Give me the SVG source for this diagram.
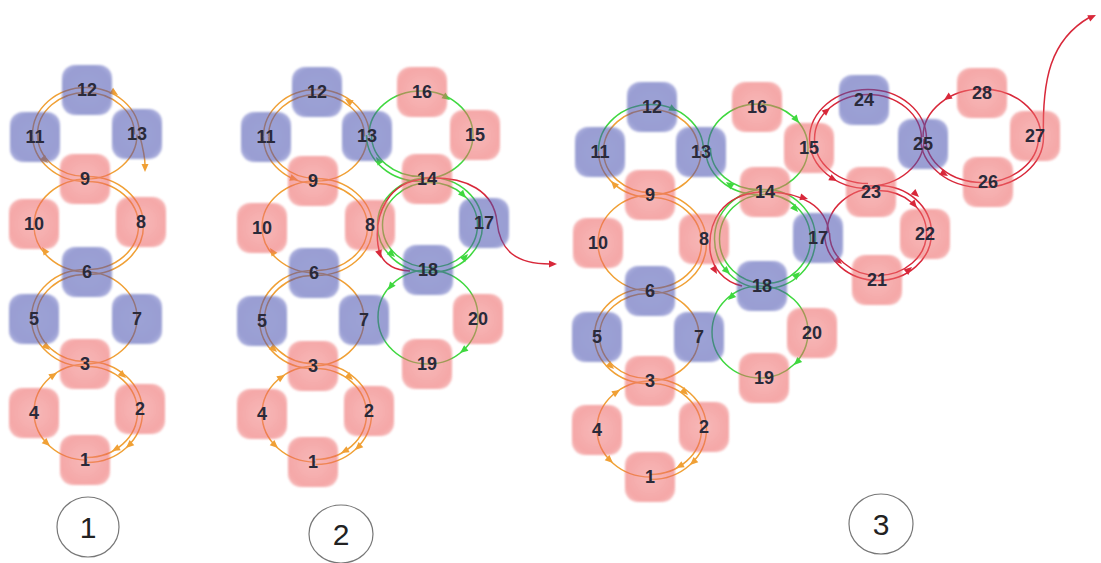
<svg xmlns="http://www.w3.org/2000/svg" width="1101" height="563" viewBox="0 0 1101 563">
<style>
.n rect{opacity:0.55;filter:url(#soft)}
.b rect{fill:url(#gb)}
.p rect{fill:url(#gp)}
.n text{font-family:"Liberation Sans",Arial,sans-serif;font-size:18px;font-weight:bold;fill:#2a2a3a;text-anchor:middle}
.c path{fill:none;stroke-width:1.5}
.o{stroke:#f0a035}
.g{stroke:#3fd83f}
.r{stroke:#d8283a}
.ao{fill:#f0a035}
.ag{fill:#3fd83f}
.ar{fill:#d8283a}
.lab ellipse{fill:#fff;stroke:#777;stroke-width:1.2}
.lab text{font-family:"Liberation Sans",Arial,sans-serif;font-size:30px;fill:#222;text-anchor:middle}
</style>
<defs>
<radialGradient id="gb" cx="50%" cy="50%" r="65%"><stop offset="0" stop-color="#4f56b4"/><stop offset="0.75" stop-color="#474faf"/><stop offset="1" stop-color="#737aca"/></radialGradient>
<radialGradient id="gp" cx="50%" cy="50%" r="65%"><stop offset="0" stop-color="#f28080"/><stop offset="0.75" stop-color="#ed6161"/><stop offset="1" stop-color="#f08585"/></radialGradient>
<filter id="soft" x="-10%" y="-10%" width="120%" height="120%"><feGaussianBlur stdDeviation="1.2"/></filter>
<path id="ah" d="M0,0 L-8,-3.5 L-8,3.5 Z"/>
</defs>
<rect width="1101" height="563" fill="#fff"/>

<g id="connectors" class="c">
<!-- panel 1 orange -->
<path class="o" d="M86,87.5 A53.5,47 0 0 0 32.5,134.5"/>
<path class="o" d="M86,92.5 A48.5,42 0 0 0 37.5,134.5"/>
<path class="o" d="M86,87.5 A53.5,47 0 0 1 139.5,134.5"/>
<path class="o" d="M86,92.5 A48.5,42 0 0 1 134.5,134.5"/>
<path class="o" d="M137,134.5 A51,44.5 0 0 1 86,179"/>
<path class="o" d="M32.5,134.5 A53.5,47 0 0 0 86,181.5"/>
<path class="o" d="M37.5,134.5 A48.5,42 0 0 0 86,176.5"/>
<path class="o" d="M139.5,134.5 C143,148 145,156 145,165"/>
<path class="o" d="M87.5,179 A53.5,46.5 0 0 0 34,225.5"/>
<path class="o" d="M87.5,176.5 A56,49 0 0 1 143.5,225.5"/>
<path class="o" d="M87.5,181.5 A51,44 0 0 1 138.5,225.5"/>
<path class="o" d="M143.5,225.5 A56,49 0 0 1 87.5,274.5"/>
<path class="o" d="M138.5,225.5 A51,44 0 0 1 87.5,269.5"/>
<path class="o" d="M34,225.5 A53.5,46.5 0 0 0 87.5,272"/>
<path class="o" d="M85.5,269.5 A54,48.5 0 0 0 31.5,318"/>
<path class="o" d="M85.5,274.5 A49,43.5 0 0 0 36.5,318"/>
<path class="o" d="M31.5,318 A54,48.5 0 0 0 85.5,366.5"/>
<path class="o" d="M36.5,318 A49,43.5 0 0 0 85.5,361.5"/>
<path class="o" d="M85.5,272 A51.5,46 0 0 1 137,318"/>
<path class="o" d="M137,318 A51.5,46 0 0 1 85.5,364"/>
<path class="o" d="M87,361.5 A55.5,50.5 0 0 1 142.5,412"/>
<path class="o" d="M87,366.5 A50.5,45.5 0 0 1 137.5,412"/>
<path class="o" d="M142.5,412 A55.5,50.5 0 0 1 87,462.5"/>
<path class="o" d="M137.5,412 A50.5,45.5 0 0 1 87,457.5"/>
<path class="o" d="M87,364 A53,48 0 0 0 34,412"/>
<path class="o" d="M34,412 A53,48 0 0 0 87,460"/>
<!-- panel 2 orange -->
<path class="o" d="M316.5,89.5 A53,47 0 0 0 263.5,136.5"/>
<path class="o" d="M316.5,94.5 A48,42 0 0 0 268.5,136.5"/>
<path class="o" d="M316.5,89.5 A53,47 0 0 1 369.5,136.5"/>
<path class="o" d="M316.5,94.5 A48,42 0 0 1 364.5,136.5"/>
<path class="o" d="M367,136.5 A50.5,44.5 0 0 1 316.5,181"/>
<path class="o" d="M263.5,136.5 A53,47 0 0 0 316.5,183.5"/>
<path class="o" d="M268.5,136.5 A48,42 0 0 0 316.5,178.5"/>
<path class="o" d="M316,181 A54,46 0 0 0 262,227"/>
<path class="o" d="M316,178.5 A56.5,48.5 0 0 1 372.5,227"/>
<path class="o" d="M316,183.5 A51.5,43.5 0 0 1 367.5,227"/>
<path class="o" d="M372.5,227 A56.5,48.5 0 0 1 316,275.5"/>
<path class="o" d="M367.5,227 A51.5,43.5 0 0 1 316,270.5"/>
<path class="o" d="M262,227 A54,46 0 0 0 316,273"/>
<path class="o" d="M313,270.5 A53.5,49 0 0 0 259.5,319.5"/>
<path class="o" d="M313,275.5 A48.5,44 0 0 0 264.5,319.5"/>
<path class="o" d="M259.5,319.5 A53.5,49 0 0 0 313,368.5"/>
<path class="o" d="M264.5,319.5 A48.5,44 0 0 0 313,363.5"/>
<path class="o" d="M313,273 A51,46.5 0 0 1 364,319.5"/>
<path class="o" d="M364,319.5 A51,46.5 0 0 1 313,366"/>
<path class="o" d="M315.5,363.5 A56,50.5 0 0 1 371.5,414"/>
<path class="o" d="M315.5,368.5 A51,45.5 0 0 1 366.5,414"/>
<path class="o" d="M371.5,414 A56,50.5 0 0 1 315.5,464.5"/>
<path class="o" d="M366.5,414 A51,45.5 0 0 1 315.5,459.5"/>
<path class="o" d="M315.5,366 A53.5,48 0 0 0 262,414"/>
<path class="o" d="M262,414 A53.5,48 0 0 0 315.5,462"/>
<!-- panel 2 green -->
<path class="g" d="M421,91 A52,44 0 0 0 369,135"/>
<path class="g" d="M421,91 A52,44 0 0 1 473,135"/>
<path class="g" d="M473,135 A52,44 0 0 1 421,179"/>
<path class="g" d="M366.5,135 A54.5,46.5 0 0 0 421,181.5"/>
<path class="g" d="M371.5,135 A49.5,41.5 0 0 0 421,176.5"/>
<path class="g" d="M430,177.5 A52.5,47.5 0 0 0 377.5,225"/>
<path class="g" d="M430,182.5 A47.5,42.5 0 0 0 382.5,225"/>
<path class="g" d="M430,177.5 A52.5,47.5 0 0 1 482.5,225"/>
<path class="g" d="M430,182.5 A47.5,42.5 0 0 1 477.5,225"/>
<path class="g" d="M482.5,225 A52.5,47.5 0 0 1 430,272.5"/>
<path class="g" d="M477.5,225 A47.5,42.5 0 0 1 430,267.5"/>
<path class="g" d="M377.5,225 A52.5,47.5 0 0 0 430,272.5"/>
<path class="g" d="M382.5,225 A47.5,42.5 0 0 0 430,267.5"/>
<path class="g" d="M428,270 A50,47 0 0 0 378,317"/>
<path class="g" d="M428,270 A50,47 0 0 1 478,317"/>
<path class="g" d="M478,317 A50,47 0 0 1 428,364"/>
<path class="g" d="M378,317 A50,47 0 0 0 428,364"/>
<!-- panel 2 red -->
<path class="r" d="M425,179 C388,181 374,215 378,245 C380,262 392,270 410,271"/>
<path class="r" d="M425,178 C468,176 494,192 497,222 C500,250 515,264 550,264"/>
<!-- panel 3 orange -->
<path class="o" d="M651,109.5 A47.5,41.5 0 0 0 603.5,151"/>
<path class="o" d="M651,109.5 A47.5,41.5 0 0 1 698.5,151"/>
<path class="o" d="M701,151 A50,44 0 0 1 651,195"/>
<path class="o" d="M598.5,151 A52.5,46.5 0 0 0 651,197.5"/>
<path class="o" d="M603.5,151 A47.5,41.5 0 0 0 651,192.5"/>
<path class="o" d="M651,195 A53,48 0 0 0 598,243"/>
<path class="o" d="M651,192.5 A55.5,50.5 0 0 1 706.5,243"/>
<path class="o" d="M651,197.5 A50.5,45.5 0 0 1 701.5,243"/>
<path class="o" d="M706.5,243 A55.5,50.5 0 0 1 651,293.5"/>
<path class="o" d="M701.5,243 A50.5,45.5 0 0 1 651,288.5"/>
<path class="o" d="M598,243 A53,48 0 0 0 651,291"/>
<path class="o" d="M648,288.5 A53.5,47.5 0 0 0 594.5,336"/>
<path class="o" d="M648,293.5 A48.5,42.5 0 0 0 599.5,336"/>
<path class="o" d="M594.5,336 A53.5,47.5 0 0 0 648,383.5"/>
<path class="o" d="M599.5,336 A48.5,42.5 0 0 0 648,378.5"/>
<path class="o" d="M648,291 A51,45 0 0 1 699,336"/>
<path class="o" d="M699,336 A51,45 0 0 1 648,381"/>
<path class="o" d="M650.5,378.5 A56,50.5 0 0 1 706.5,429"/>
<path class="o" d="M650.5,383.5 A51,45.5 0 0 1 701.5,429"/>
<path class="o" d="M706.5,429 A56,50.5 0 0 1 650.5,479.5"/>
<path class="o" d="M701.5,429 A51,45.5 0 0 1 650.5,474.5"/>
<path class="o" d="M650.5,381 A53.5,48 0 0 0 597,429"/>
<path class="o" d="M597,429 A53.5,48 0 0 0 650.5,477"/>
<!-- panel 3 green -->
<path class="g" d="M651,104.5 A52.5,46.5 0 0 0 598.5,151"/>
<path class="g" d="M651,104.5 A52.5,46.5 0 0 1 703.5,151"/>
<path class="g" d="M758,104 A50,44 0 0 0 708,148"/>
<path class="g" d="M758,104 A50,44 0 0 1 808,148"/>
<path class="g" d="M808,148 A50,44 0 0 1 758,192"/>
<path class="g" d="M705.5,148 A52.5,46.5 0 0 0 758,194.5"/>
<path class="g" d="M710.5,148 A47.5,41.5 0 0 0 758,189.5"/>
<path class="g" d="M765,189.5 A50.5,49.5 0 0 0 714.5,239"/>
<path class="g" d="M765,194.5 A45.5,44.5 0 0 0 719.5,239"/>
<path class="g" d="M765,189.5 A50.5,49.5 0 0 1 815.5,239"/>
<path class="g" d="M765,194.5 A45.5,44.5 0 0 1 810.5,239"/>
<path class="g" d="M815.5,239 A50.5,49.5 0 0 1 765,288.5"/>
<path class="g" d="M810.5,239 A45.5,44.5 0 0 1 765,283.5"/>
<path class="g" d="M714.5,239 A50.5,49.5 0 0 0 765,288.5"/>
<path class="g" d="M719.5,239 A45.5,44.5 0 0 0 765,283.5"/>
<path class="g" d="M760,286 A48,46 0 0 0 712,332"/>
<path class="g" d="M760,286 A48,46 0 0 1 808,332"/>
<path class="g" d="M808,332 A48,46 0 0 1 760,378"/>
<path class="g" d="M712,332 A48,46 0 0 0 760,378"/>
<!-- panel 3 red -->
<path class="r" d="M760,192 C722,195 708,222 710,250 C712,268 724,282 742,286"/>
<path class="r" d="M770,192 C800,193 826,205 829,233"/>
<path class="r" d="M878,188 A51,45 0 0 0 827,233"/>
<path class="r" d="M878,185.5 A53.5,47.5 0 0 1 931.5,233"/>
<path class="r" d="M878,190.5 A48.5,42.5 0 0 1 926.5,233"/>
<path class="r" d="M931.5,233 A53.5,47.5 0 0 1 878,280.5"/>
<path class="r" d="M926.5,233 A48.5,42.5 0 0 1 878,275.5"/>
<path class="r" d="M824.5,233 A53.5,47.5 0 0 0 878,280.5"/>
<path class="r" d="M829.5,233 A48.5,42.5 0 0 0 878,275.5"/>
<path class="r" d="M868,89.5 A58.5,49.5 0 0 0 809.5,139"/>
<path class="r" d="M868,94.5 A53.5,44.5 0 0 0 814.5,139"/>
<path class="r" d="M868,89.5 A58.5,49.5 0 0 1 926.5,139"/>
<path class="r" d="M868,94.5 A53.5,44.5 0 0 1 921.5,139"/>
<path class="r" d="M809.5,139 A58.5,49.5 0 0 0 868,188.5"/>
<path class="r" d="M814.5,139 A53.5,44.5 0 0 0 868,183.5"/>
<path class="r" d="M924,139 A56,47 0 0 1 868,186"/>
<path class="r" d="M982,89 A59,48 0 0 0 923,137"/>
<path class="r" d="M982,89 A59,48 0 0 1 1041,137"/>
<path class="r" d="M920.5,137 A61.5,50.5 0 0 0 982,187.5"/>
<path class="r" d="M925.5,137 A56.5,45.5 0 0 0 982,182.5"/>
<path class="r" d="M1043.5,137 A61.5,50.5 0 0 1 982,187.5"/>
<path class="r" d="M1038.5,137 A56.5,45.5 0 0 1 982,182.5"/>
<path class="r" d="M1043.5,137 C1042,80 1050,40 1090,17"/>
<!-- arrowheads -->
<use href="#ah" class="ao" transform="translate(118,95) rotate(32)"/>
<use href="#ah" class="ao" transform="translate(145,172) rotate(90)"/>
<use href="#ah" class="ao" transform="translate(48,163) rotate(46)"/>
<use href="#ah" class="ao" transform="translate(42,247) rotate(-124)"/>
<use href="#ah" class="ao" transform="translate(50,350) rotate(42)"/>
<use href="#ah" class="ao" transform="translate(126,378) rotate(42)"/>
<use href="#ah" class="ao" transform="translate(112,451) rotate(152)"/>
<use href="#ah" class="ao" transform="translate(126,448) rotate(138)"/>
<use href="#ah" class="ao" transform="translate(57,373) rotate(-32)"/>
<use href="#ah" class="ao" transform="translate(50,446) rotate(42)"/>
<use href="#ah" class="ao" transform="translate(345,99) rotate(-148)"/>
<use href="#ah" class="ao" transform="translate(298,180) rotate(18)"/>
<use href="#ah" class="ao" transform="translate(270,248) rotate(-124)"/>
<use href="#ah" class="ao" transform="translate(277,352) rotate(42)"/>
<use href="#ah" class="ao" transform="translate(353,380) rotate(42)"/>
<use href="#ah" class="ao" transform="translate(341,453) rotate(152)"/>
<use href="#ah" class="ao" transform="translate(355,450) rotate(138)"/>
<use href="#ah" class="ao" transform="translate(285,375) rotate(-32)"/>
<use href="#ah" class="ao" transform="translate(278,448) rotate(42)"/>
<use href="#ah" class="ag" transform="translate(450,100) rotate(35)"/>
<use href="#ah" class="ag" transform="translate(376,157) rotate(-124)"/>
<use href="#ah" class="ag" transform="translate(466,198) rotate(47)"/>
<use href="#ah" class="ag" transform="translate(395,257) rotate(42)"/>
<use href="#ah" class="ag" transform="translate(468,254) rotate(-47)"/>
<use href="#ah" class="ag" transform="translate(388,290) rotate(127)"/>
<use href="#ah" class="ag" transform="translate(460,353) rotate(142)"/>
<use href="#ah" class="ar" transform="translate(381,258) rotate(72)"/>
<use href="#ah" class="ar" transform="translate(557,264)"/>
<use href="#ah" class="ag" transform="translate(677,111) rotate(27)"/>
<use href="#ah" class="ao" transform="translate(611,181) rotate(-133)"/>
<use href="#ah" class="ag" transform="translate(799,123) rotate(51)"/>
<use href="#ah" class="ag" transform="translate(726,182) rotate(-144)"/>
<use href="#ah" class="ag" transform="translate(798,212) rotate(49)"/>
<use href="#ah" class="ag" transform="translate(730,274) rotate(44)"/>
<use href="#ah" class="ag" transform="translate(800,272) rotate(-44)"/>
<use href="#ah" class="ag" transform="translate(728,300) rotate(136)"/>
<use href="#ah" class="ag" transform="translate(794,365) rotate(136)"/>
<use href="#ah" class="ao" transform="translate(614,369) rotate(42)"/>
<use href="#ah" class="ao" transform="translate(688,395) rotate(42)"/>
<use href="#ah" class="ao" transform="translate(676,468) rotate(152)"/>
<use href="#ah" class="ao" transform="translate(690,465) rotate(138)"/>
<use href="#ah" class="ao" transform="translate(620,390) rotate(-32)"/>
<use href="#ah" class="ao" transform="translate(613,463) rotate(42)"/>
<use href="#ah" class="ar" transform="translate(717,274) rotate(60)"/>
<use href="#ah" class="ar" transform="translate(808,199) rotate(15)"/>
<use href="#ah" class="ar" transform="translate(919,197) rotate(42)"/>
<use href="#ah" class="ar" transform="translate(917,208) rotate(50)"/>
<use href="#ah" class="ar" transform="translate(842,264) rotate(41)"/>
<use href="#ah" class="ar" transform="translate(912,267) rotate(-41)"/>
<use href="#ah" class="ar" transform="translate(830,108) rotate(-40)"/>
<use href="#ah" class="ar" transform="translate(837,181) rotate(28)"/>
<use href="#ah" class="ar" transform="translate(944,100) rotate(146)"/>
<use href="#ah" class="ar" transform="translate(948,176) rotate(30)"/>
<use href="#ah" class="ar" transform="translate(1096,15) rotate(-25)"/>
</g>

<g id="nodes">
<!-- panel 1 -->
<g id="p1-n12" class="n b"><rect x="62" y="65" width="50" height="50" rx="13"/><text x="87" y="96">12</text></g>
<g id="p1-n11" class="n b"><rect x="10" y="112" width="50" height="50" rx="13"/><text x="35" y="143">11</text></g>
<g id="p1-n13" class="n b"><rect x="112" y="109" width="50" height="50" rx="13"/><text x="137" y="140">13</text></g>
<g id="p1-n9" class="n p"><rect x="60" y="154" width="50" height="50" rx="13"/><text x="85" y="185">9</text></g>
<g id="p1-n10" class="n p"><rect x="9" y="199" width="50" height="50" rx="13"/><text x="34" y="230">10</text></g>
<g id="p1-n8" class="n p"><rect x="116" y="197" width="50" height="50" rx="13"/><text x="141" y="228">8</text></g>
<g id="p1-n6" class="n b"><rect x="62" y="247" width="50" height="50" rx="13"/><text x="87" y="278">6</text></g>
<g id="p1-n5" class="n b"><rect x="9" y="294" width="50" height="50" rx="13"/><text x="34" y="325">5</text></g>
<g id="p1-n7" class="n b"><rect x="112" y="294" width="50" height="50" rx="13"/><text x="137" y="325">7</text></g>
<g id="p1-n3" class="n p"><rect x="60" y="339" width="50" height="50" rx="13"/><text x="85" y="370">3</text></g>
<g id="p1-n4" class="n p"><rect x="9" y="388" width="50" height="50" rx="13"/><text x="34" y="419">4</text></g>
<g id="p1-n2" class="n p"><rect x="115" y="384" width="50" height="50" rx="13"/><text x="140" y="415">2</text></g>
<g id="p1-n1" class="n p"><rect x="60" y="435" width="50" height="50" rx="13"/><text x="85" y="466">1</text></g>
<!-- panel 2 -->
<g id="p2-n12" class="n b"><rect x="292" y="67" width="50" height="50" rx="13"/><text x="317" y="98">12</text></g>
<g id="p2-n11" class="n b"><rect x="241" y="112" width="50" height="50" rx="13"/><text x="266" y="143">11</text></g>
<g id="p2-n13" class="n b"><rect x="342" y="111" width="50" height="50" rx="13"/><text x="367" y="142">13</text></g>
<g id="p2-n16" class="n p"><rect x="397" y="67" width="50" height="50" rx="13"/><text x="422" y="98">16</text></g>
<g id="p2-n15" class="n p"><rect x="450" y="110" width="50" height="50" rx="13"/><text x="475" y="141">15</text></g>
<g id="p2-n9" class="n p"><rect x="288" y="156" width="50" height="50" rx="13"/><text x="313" y="187">9</text></g>
<g id="p2-n14" class="n p"><rect x="402" y="154" width="50" height="50" rx="13"/><text x="427" y="185">14</text></g>
<g id="p2-n10" class="n p"><rect x="237" y="203" width="50" height="50" rx="13"/><text x="262" y="234">10</text></g>
<g id="p2-n8" class="n p"><rect x="345" y="200" width="50" height="50" rx="13"/><text x="370" y="231">8</text></g>
<g id="p2-n17" class="n b"><rect x="459" y="198" width="50" height="50" rx="13"/><text x="484" y="229">17</text></g>
<g id="p2-n6" class="n b"><rect x="289" y="248" width="50" height="50" rx="13"/><text x="314" y="279">6</text></g>
<g id="p2-n18" class="n b"><rect x="403" y="245" width="50" height="50" rx="13"/><text x="428" y="276">18</text></g>
<g id="p2-n5" class="n b"><rect x="237" y="296" width="50" height="50" rx="13"/><text x="262" y="327">5</text></g>
<g id="p2-n7" class="n b"><rect x="339" y="295" width="50" height="50" rx="13"/><text x="364" y="326">7</text></g>
<g id="p2-n20" class="n p"><rect x="453" y="294" width="50" height="50" rx="13"/><text x="478" y="325">20</text></g>
<g id="p2-n3" class="n p"><rect x="288" y="341" width="50" height="50" rx="13"/><text x="313" y="372">3</text></g>
<g id="p2-n19" class="n p"><rect x="402" y="339" width="50" height="50" rx="13"/><text x="427" y="370">19</text></g>
<g id="p2-n4" class="n p"><rect x="237" y="389" width="50" height="50" rx="13"/><text x="262" y="420">4</text></g>
<g id="p2-n2" class="n p"><rect x="344" y="386" width="50" height="50" rx="13"/><text x="369" y="417">2</text></g>
<g id="p2-n1" class="n p"><rect x="288" y="437" width="50" height="50" rx="13"/><text x="313" y="468">1</text></g>
<!-- panel 3 -->
<g id="p3-n12" class="n b"><rect x="627" y="82" width="50" height="50" rx="13"/><text x="652" y="113">12</text></g>
<g id="p3-n11" class="n b"><rect x="575" y="127" width="50" height="50" rx="13"/><text x="600" y="158">11</text></g>
<g id="p3-n13" class="n b"><rect x="676" y="127" width="50" height="50" rx="13"/><text x="701" y="158">13</text></g>
<g id="p3-n16" class="n p"><rect x="732" y="82" width="50" height="50" rx="13"/><text x="757" y="113">16</text></g>
<g id="p3-n15" class="n p"><rect x="784" y="123" width="50" height="50" rx="13"/><text x="809" y="154">15</text></g>
<g id="p3-n24" class="n b"><rect x="839" y="75" width="50" height="50" rx="13"/><text x="864" y="106">24</text></g>
<g id="p3-n28" class="n p"><rect x="957" y="68" width="50" height="50" rx="13"/><text x="982" y="99">28</text></g>
<g id="p3-n25" class="n b"><rect x="898" y="119" width="50" height="50" rx="13"/><text x="923" y="150">25</text></g>
<g id="p3-n27" class="n p"><rect x="1010" y="111" width="50" height="50" rx="13"/><text x="1035" y="142">27</text></g>
<g id="p3-n9" class="n p"><rect x="625" y="170" width="50" height="50" rx="13"/><text x="650" y="201">9</text></g>
<g id="p3-n14" class="n p"><rect x="740" y="167" width="50" height="50" rx="13"/><text x="765" y="198">14</text></g>
<g id="p3-n23" class="n p"><rect x="846" y="167" width="50" height="50" rx="13"/><text x="871" y="198">23</text></g>
<g id="p3-n26" class="n p"><rect x="963" y="157" width="50" height="50" rx="13"/><text x="988" y="188">26</text></g>
<g id="p3-n10" class="n p"><rect x="573" y="218" width="50" height="50" rx="13"/><text x="598" y="249">10</text></g>
<g id="p3-n8" class="n p"><rect x="679" y="214" width="50" height="50" rx="13"/><text x="704" y="245">8</text></g>
<g id="p3-n17" class="n b"><rect x="793" y="213" width="50" height="50" rx="13"/><text x="818" y="244">17</text></g>
<g id="p3-n22" class="n p"><rect x="900" y="209" width="50" height="50" rx="13"/><text x="925" y="240">22</text></g>
<g id="p3-n6" class="n b"><rect x="625" y="266" width="50" height="50" rx="13"/><text x="650" y="297">6</text></g>
<g id="p3-n18" class="n b"><rect x="737" y="261" width="50" height="50" rx="13"/><text x="762" y="292">18</text></g>
<g id="p3-n21" class="n p"><rect x="852" y="255" width="50" height="50" rx="13"/><text x="877" y="286">21</text></g>
<g id="p3-n5" class="n b"><rect x="572" y="312" width="50" height="50" rx="13"/><text x="597" y="343">5</text></g>
<g id="p3-n7" class="n b"><rect x="674" y="312" width="50" height="50" rx="13"/><text x="699" y="343">7</text></g>
<g id="p3-n20" class="n p"><rect x="787" y="308" width="50" height="50" rx="13"/><text x="812" y="339">20</text></g>
<g id="p3-n3" class="n p"><rect x="625" y="356" width="50" height="50" rx="13"/><text x="650" y="387">3</text></g>
<g id="p3-n19" class="n p"><rect x="739" y="353" width="50" height="50" rx="13"/><text x="764" y="384">19</text></g>
<g id="p3-n4" class="n p"><rect x="572" y="405" width="50" height="50" rx="13"/><text x="597" y="436">4</text></g>
<g id="p3-n2" class="n p"><rect x="679" y="402" width="50" height="50" rx="13"/><text x="704" y="433">2</text></g>
<g id="p3-n1" class="n p"><rect x="625" y="452" width="50" height="50" rx="13"/><text x="650" y="483">1</text></g>
</g>

<g id="labels" class="lab">
<g id="label-1"><ellipse cx="88" cy="527" rx="31" ry="30"/><text x="88" y="538">1</text></g>
<g id="label-2"><ellipse cx="341" cy="534" rx="32" ry="29"/><text x="341" y="545">2</text></g>
<g id="label-3"><ellipse cx="881" cy="524" rx="32" ry="30"/><text x="881" y="535">3</text></g>
</g>
</svg>
